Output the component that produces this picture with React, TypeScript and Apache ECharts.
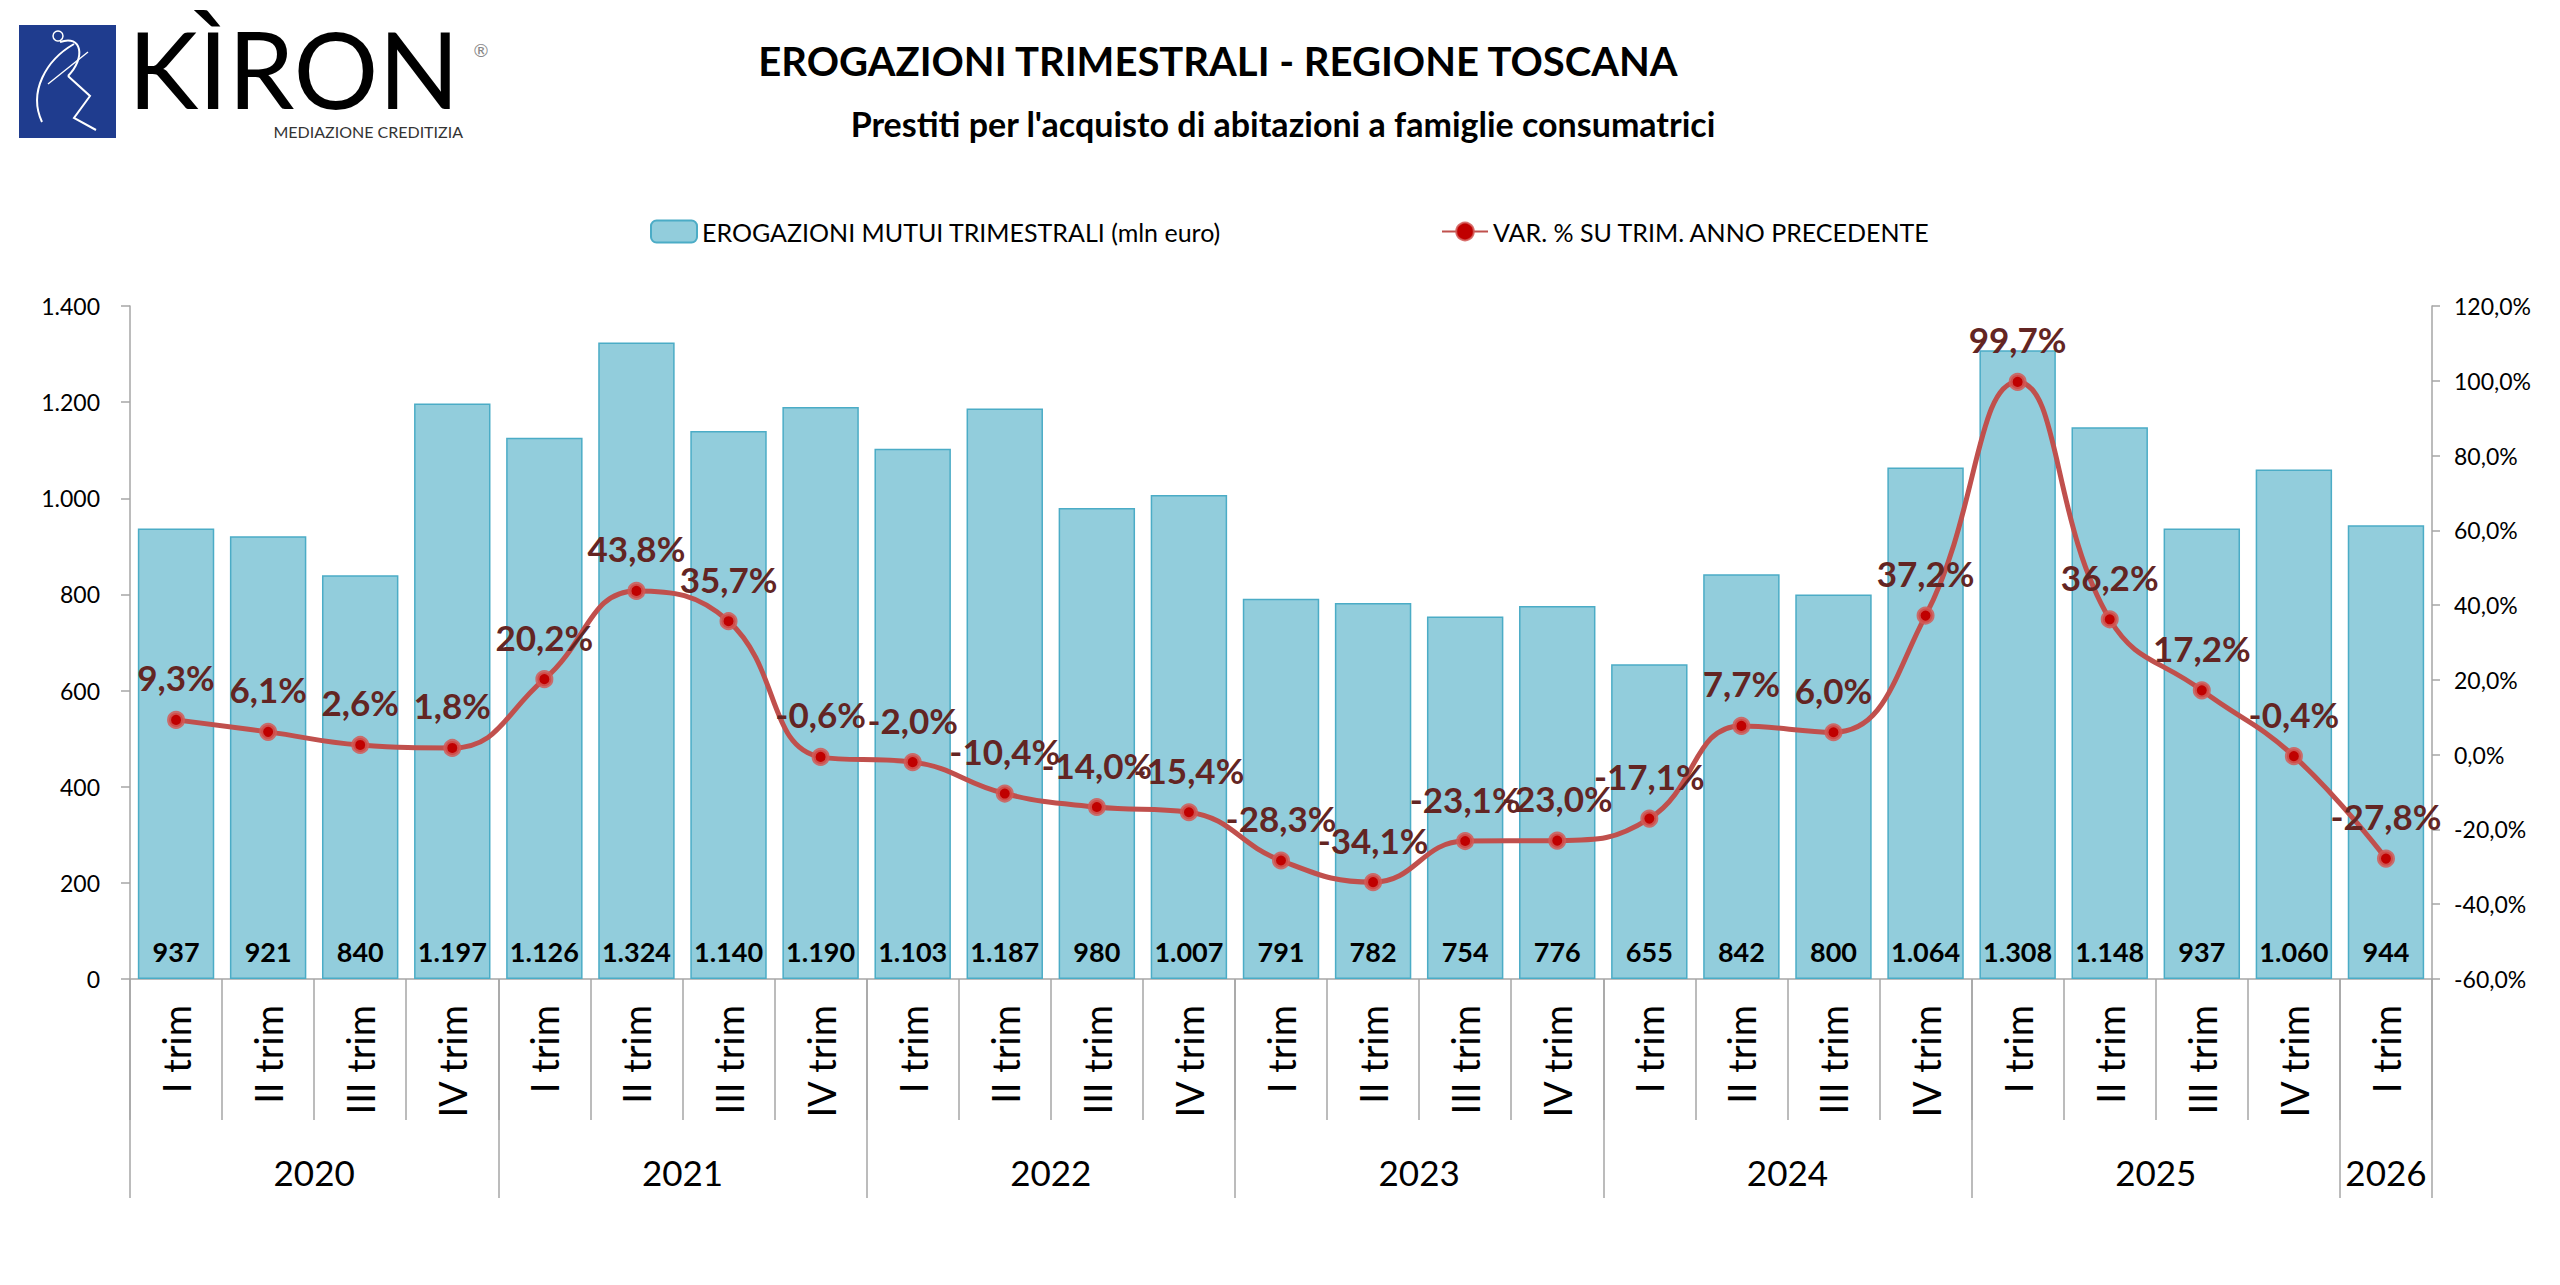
import React, { useEffect, useRef } from 'react';
import * as echarts from 'echarts';

// ---- data ----
const quarters = [
  'I trim', 'II trim', 'III trim', 'IV trim',
  'I trim', 'II trim', 'III trim', 'IV trim',
  'I trim', 'II trim', 'III trim', 'IV trim',
  'I trim', 'II trim', 'III trim', 'IV trim',
  'I trim', 'II trim', 'III trim', 'IV trim',
  'I trim', 'II trim', 'III trim', 'IV trim',
  'I trim',
];
const years = ['2020', '2021', '2022', '2023', '2024', '2025', '2026'];
const quartersPerYear = [4, 4, 4, 4, 4, 4, 1];
const erogazioni = [
  937, 921, 840, 1197,
  1126, 1324, 1140, 1190,
  1103, 1187, 980, 1007,
  791, 782, 754, 776,
  655, 842, 800, 1064,
  1308, 1148, 937, 1060,
  944,
];
const variazione = [
  9.3, 6.1, 2.6, 1.8,
  20.2, 43.8, 35.7, -0.6,
  -2.0, -10.4, -14.0, -15.4,
  -28.3, -34.1, -23.1, -23.0,
  -17.1, 7.7, 6.0, 37.2,
  99.7, 36.2, 17.2, -0.4,
  -27.8,
];
const leftAxisTicks = [0, 200, 400, 600, 800, 1000, 1200, 1400];
const rightAxisTicks = [-60, -40, -20, 0, 20, 40, 60, 80, 100, 120];
const seriesNames = ['EROGAZIONI MUTUI TRIMESTRALI (mln euro)', 'VAR. % SU TRIM. ANNO PRECEDENTE'];
const titleText = 'EROGAZIONI TRIMESTRALI - REGIONE TOSCANA';
const subtitleText = "Prestiti per l'acquisto di abitazioni a famiglie consumatrici";

// ---- helpers ----
const fmtInt = (v: number) => String(Math.round(v)).replace(/\B(?=(\d{3})+(?!\d))/g, '.');
const fmtPct = (v: number) => v.toFixed(1).replace('.', ',') + '%';

const yearStarts: number[] = [];
const yearCenters: number[] = [];
{
  let acc = 0;
  quartersPerYear.forEach((n) => {
    yearStarts.push(acc);
    yearCenters.push(acc + n / 2);
    acc += n;
  });
}

const FONT = 'Lato';
const AXIS_COLOR = '#A6A6A6';

function txt(x: number, y: number, text: string, size: number, weight: any, color: string, align = 'center', lineHeight?: number) {
  return {
    type: 'text',
    x,
    y,
    style: {
      text,
      fontSize: size,
      fontWeight: weight,
      fontFamily: FONT,
      lineHeight: lineHeight || Math.round(size * 1.2),
      fill: color,
      textAlign: align,
      textVerticalAlign: 'middle',
      align,
      verticalAlign: 'middle',
    },
  };
}

export default function App() {
  const ref = useRef<HTMLDivElement>(null);

  useEffect(() => {
    if (!ref.current) return;
    const chart = echarts.init(ref.current, undefined, { renderer: 'svg' });

    const logo: any[] = [
      { type: 'rect', shape: { x: 19, y: 25, width: 97, height: 113 }, style: { fill: '#1F3C8E' } },
      { type: 'bezierCurve', shape: { x1: 42, y1: 122, cpx1: 28, cpy1: 92, cpx2: 46, cpy2: 60, x2: 74, y2: 44 }, style: { stroke: '#FFFFFF', lineWidth: 2, fill: 'none' } },
      { type: 'bezierCurve', shape: { x1: 60, y1: 42, cpx1: 82, cpy1: 34, cpx2: 86, cpy2: 58, x2: 68, y2: 76 }, style: { stroke: '#FFFFFF', lineWidth: 2, fill: 'none' } },
      { type: 'polyline', shape: { points: [[68, 76], [90, 96], [74, 118], [96, 130]] }, style: { stroke: '#FFFFFF', lineWidth: 2, fill: 'none' } },
      { type: 'line', shape: { x1: 48, y1: 84, x2: 88, y2: 52 }, style: { stroke: '#FFFFFF', lineWidth: 1.5 } },
      { type: 'circle', shape: { cx: 58, cy: 36, r: 5 }, style: { stroke: '#FFFFFF', lineWidth: 1.5, fill: 'none' } },
      txt(128, 68, 'KÌRON', 106, 400, '#000000', 'left', 100),
      txt(463, 131, 'MEDIAZIONE CREDITIZIA', 16, 400, '#333333', 'right', 16),
      txt(481, 50, '®', 18, 400, '#888888', 'center', 18),
    ];

    const gridBox = { left: 130, right: 128, top: 306, bottom: 306, containLabel: false, outerBoundsMode: 'none' };

    const option: any = {
      animation: false,
      backgroundColor: '#FFFFFF',
      textStyle: { fontFamily: FONT },
      graphic: [
        ...logo,
        txt(1218, 61, titleText, 40, 700, '#000000'),
        txt(1283, 123, subtitleText, 34, 700, '#000000'),
      ],
      legend: {
        data: seriesNames,
        left: 645,
        top: 214,
        itemWidth: 46,
        itemHeight: 22,
        itemGap: 220,
        textStyle: { fontSize: 25, color: '#000000', fontFamily: FONT },
      },
      grid: [{ ...gridBox }, { ...gridBox }, { ...gridBox }],
      xAxis: [
        {
          type: 'category',
          gridIndex: 0,
          data: quarters,
          position: 'bottom',
          axisLine: { show: true, onZero: false, lineStyle: { color: AXIS_COLOR, width: 1.5 } },
          axisTick: { show: true, interval: 0, length: 141, lineStyle: { color: AXIS_COLOR, width: 1.5 } },
          axisLabel: { interval: 0, rotate: 90, fontSize: 38, color: '#000000', margin: 26, fontFamily: FONT },
        },
        {
          type: 'category',
          gridIndex: 1,
          data: quarters,
          position: 'bottom',
          axisLine: { show: false, onZero: false },
          axisTick: {
            show: true,
            length: 219,
            interval: (i: number) => yearStarts.includes(i),
            lineStyle: { color: AXIS_COLOR, width: 1.5 },
          },
          axisLabel: { show: false },
        },
        {
          type: 'value',
          gridIndex: 2,
          min: 0,
          max: quarters.length,
          interval: 0.5,
          position: 'bottom',
          offset: 160,
          axisLine: { show: false, onZero: false },
          axisTick: { show: false },
          splitLine: { show: false },
          axisLabel: {
            show: true,
            margin: 15,
            fontSize: 35,
            color: '#000000',
            fontFamily: FONT,
            showMinLabel: true,
            showMaxLabel: true,
            formatter: (v: number) => {
              const idx = yearCenters.findIndex((c) => Math.abs(c - v) < 1e-6);
              return idx >= 0 ? years[idx] : '';
            },
          },
        },
      ],
      yAxis: [
        {
          type: 'value',
          gridIndex: 0,
          min: leftAxisTicks[0],
          max: leftAxisTicks[leftAxisTicks.length - 1],
          interval: leftAxisTicks[1] - leftAxisTicks[0],
          position: 'left',
          axisLine: { show: true, onZero: false, lineStyle: { color: AXIS_COLOR, width: 1.5 } },
          axisTick: { show: true, length: 9, lineStyle: { color: AXIS_COLOR, width: 1.5 } },
          splitLine: { show: false },
          axisLabel: { fontSize: 23, color: '#000000', margin: 30, formatter: (v: number) => fmtInt(v) },
        },
        {
          type: 'value',
          gridIndex: 0,
          min: rightAxisTicks[0],
          max: rightAxisTicks[rightAxisTicks.length - 1],
          interval: rightAxisTicks[1] - rightAxisTicks[0],
          position: 'right',
          axisLine: { show: true, onZero: false, lineStyle: { color: AXIS_COLOR, width: 1.5 } },
          axisTick: { show: true, length: 8, lineStyle: { color: AXIS_COLOR, width: 1.5 } },
          splitLine: { show: false },
          axisLabel: { fontSize: 23, color: '#000000', margin: 22, formatter: (v: number) => fmtPct(v) },
        },
        { type: 'value', gridIndex: 1, min: 0, max: 1, show: false },
        { type: 'value', gridIndex: 2, min: 0, max: 1, show: false },
      ],
      series: [
        {
          name: seriesNames[0],
          type: 'bar',
          xAxisIndex: 0,
          yAxisIndex: 0,
          data: erogazioni,
          barCategoryGap: '17%',
          itemStyle: { color: '#92CDDC', borderColor: '#4BACC6', borderWidth: 1.5 },
          label: {
            show: true,
            position: 'insideBottom',
            distance: 14,
            fontSize: 27,
            fontWeight: 'bold',
            color: '#000000',
            fontFamily: FONT,
            formatter: (p: any) => fmtInt(p.value),
          },
        },
        {
          name: seriesNames[1],
          type: 'line',
          xAxisIndex: 0,
          yAxisIndex: 1,
          data: variazione,
          smooth: 0.45,
          symbol: 'circle',
          symbolSize: 14,
          z: 5,
          lineStyle: { color: '#C0504D', width: 5 },
          itemStyle: { color: '#C00000', borderColor: 'rgba(210,90,87,0.85)', borderWidth: 4 },
          label: {
            show: true,
            position: 'top',
            distance: 16,
            fontSize: 35,
            fontWeight: 'bold',
            color: '#632523',
            fontFamily: FONT,
            formatter: (p: any) => fmtPct(p.value),
          },
        },
      ],
    };

    chart.setOption(option);
    return () => {
      chart.dispose();
    };
  }, []);

  return (
    <div
      ref={ref}
      style={{ position: 'fixed', left: 0, top: 0, width: 2560, height: 1285, background: '#FFFFFF' }}
    />
  );
}
